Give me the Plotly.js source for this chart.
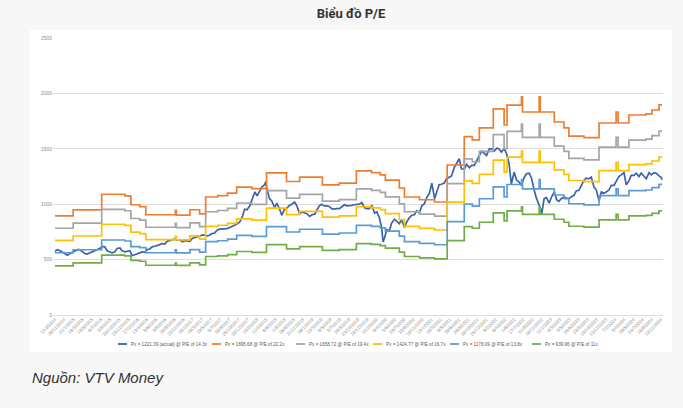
<!DOCTYPE html>
<html lang="vi">
<head>
<meta charset="utf-8">
<title>Biểu đồ P/E</title>
<script src="https://cdn.plot.ly/plotly-3.0.1.min.js"></script>
<style>
  html, body { margin: 0; padding: 0; }
  body { width: 683px; height: 408px; background: #f7f7f7; position: relative; overflow: hidden; }
  #title {
    position: absolute; left: 30px; top: 6px; width: 642px;
    text-align: center; font: bold 13px Roboto, "Liberation Sans", sans-serif; color: #333;
  }
  #panel { position: absolute; left: 30px; top: 30px; width: 642px; height: 322px; background: #fff; }
  #chart { width: 642px; height: 322px; }
  #source {
    position: absolute; left: 32px; top: 369px; line-height: 17px;
    font: italic 15px "Liberation Sans", Arial, sans-serif; color: #333;
  }
</style>
</head>
<body>
<div id="title">Biểu đồ P/E</div>
<div id="panel"><div id="chart"></div></div>
<div id="source">Nguồn: VTV Money</div>

<script>
// -- Actual index level (semi-monthly readings) -------------------------------
const actualDates = [
  '2014-10-01','2014-10-15','2014-11-01','2014-11-15','2014-12-01','2014-12-15',
  '2015-01-01','2015-01-15','2015-02-01','2015-02-15','2015-03-01','2015-03-15','2015-04-01','2015-04-15','2015-05-01','2015-05-15','2015-06-01','2015-06-15',
  '2015-07-01','2015-07-15','2015-08-01','2015-08-15','2015-09-01','2015-09-15','2015-10-01','2015-10-15','2015-11-01','2015-11-15','2015-12-01','2015-12-15',
  '2016-01-01','2016-01-15','2016-02-01','2016-02-15','2016-03-01','2016-03-15','2016-04-01','2016-04-15','2016-05-01','2016-05-15','2016-06-01','2016-06-15',
  '2016-07-01','2016-07-15','2016-08-01','2016-08-15','2016-09-01','2016-09-15','2016-10-01','2016-10-15','2016-11-01','2016-11-15','2016-12-01','2016-12-15',
  '2017-01-01','2017-01-15','2017-02-01','2017-02-15','2017-03-01','2017-03-15','2017-04-01','2017-04-15','2017-05-01','2017-05-15','2017-06-01','2017-06-15',
  '2017-07-01','2017-07-15','2017-08-01','2017-08-15','2017-09-01','2017-09-15','2017-10-01','2017-10-15','2017-11-01','2017-11-15','2017-12-01','2017-12-15',
  '2018-01-01','2018-01-15','2018-02-01','2018-02-15','2018-03-01','2018-03-15','2018-04-01','2018-04-09','2018-04-15','2018-05-01','2018-05-15','2018-06-01','2018-06-15',
  '2018-07-01','2018-07-15','2018-08-01','2018-08-15','2018-09-01','2018-09-15','2018-10-01','2018-10-15','2018-11-01','2018-11-15','2018-12-01','2018-12-15',
  '2019-01-01','2019-01-15','2019-02-01','2019-02-15','2019-03-01','2019-03-15','2019-04-01','2019-04-15','2019-05-01','2019-05-15','2019-06-01','2019-06-15',
  '2019-07-01','2019-07-15','2019-08-01','2019-08-15','2019-09-01','2019-09-15','2019-10-01','2019-10-15','2019-11-01','2019-11-15','2019-12-01','2019-12-15',
  '2020-01-01','2020-01-15','2020-02-01','2020-02-15','2020-03-01','2020-03-15','2020-03-24','2020-04-01','2020-04-15','2020-05-01','2020-05-15','2020-06-01','2020-06-15',
  '2020-07-01','2020-07-15','2020-08-01','2020-08-15','2020-09-01','2020-09-15','2020-10-01','2020-10-15','2020-11-01','2020-11-15','2020-12-01','2020-12-15',
  '2021-01-01','2021-01-15','2021-02-01','2021-02-15','2021-03-01','2021-03-15','2021-04-01','2021-04-15','2021-05-01','2021-05-15','2021-06-01','2021-06-15',
  '2021-07-01','2021-07-15','2021-08-01','2021-08-15','2021-09-01','2021-09-15','2021-10-01','2021-10-15','2021-11-01','2021-11-15','2021-12-01','2021-12-15',
  '2022-01-01','2022-01-15','2022-02-01','2022-02-15','2022-03-01','2022-03-15','2022-04-01','2022-04-15','2022-05-01','2022-05-15','2022-06-01','2022-06-15',
  '2022-07-01','2022-07-15','2022-08-01','2022-08-15','2022-09-01','2022-09-15','2022-10-01','2022-10-15','2022-11-01','2022-11-15','2022-11-16','2022-12-01','2022-12-15',
  '2023-01-01','2023-01-15','2023-02-01','2023-02-15','2023-03-01','2023-03-15','2023-04-01','2023-04-15','2023-05-01','2023-05-15','2023-06-01','2023-06-15',
  '2023-07-01','2023-07-15','2023-08-01','2023-08-15','2023-09-01','2023-09-15','2023-10-01','2023-10-15','2023-11-01','2023-11-15','2023-12-01','2023-12-15',
  '2024-01-01','2024-01-15','2024-02-01','2024-02-15','2024-03-01','2024-03-15','2024-04-01','2024-04-15','2024-05-01','2024-05-15','2024-06-01','2024-06-15',
  '2024-07-01','2024-07-15','2024-08-01','2024-08-15','2024-09-01','2024-09-15','2024-10-01','2024-10-15','2024-11-01','2024-11-15','2024-11-19'
];
const actualValues = [
  575, 590, 580, 565, 555, 540,
  555, 565, 575, 590, 590, 570, 555, 550, 560, 570, 580, 590,
  600, 620, 615, 580, 565, 560, 570, 600, 605, 580, 570, 575,
  580, 535, 545, 555, 560, 570, 565, 590, 595, 615, 620, 625,
  635, 645, 640, 665, 675, 680, 685, 675, 680, 660, 670, 665,
  665, 690, 700, 710, 715, 720, 720, 715, 720, 735, 740, 765,
  775, 775, 780, 780, 790, 800, 805, 820, 840, 880, 955, 950,
  985, 1050, 1110, 1075, 1120, 1155, 1175, 1204, 1140, 1050, 1030, 970, 1010,
  960, 900, 955, 965, 990, 1000, 1020, 985, 915, 930, 925, 915,
  890, 905, 910, 950, 985, 1000, 985, 985, 980, 960, 955, 960,
  960, 975, 995, 985, 985, 990, 995, 1000, 1000, 1015, 970, 960,
  960, 990, 920, 930, 880, 790, 660, 690, 770, 760, 830, 865, 850,
  825, 860, 790, 840, 880, 900, 905, 940, 925, 985, 1005, 1060,
  1100, 1190, 1050, 1115, 1175, 1180, 1190, 1230, 1240, 1255, 1330, 1370,
  1410, 1320, 1315, 1360, 1330, 1350, 1350, 1390, 1440, 1480, 1460, 1440,
  1500, 1500, 1480, 1505, 1500, 1470, 1500, 1460, 1370, 1180, 1290, 1220,
  1200, 1170, 1240, 1275, 1280, 1235, 1130, 1055, 990, 935, 911, 1050, 1060,
  1010, 1065, 1110, 1040, 1025, 1050, 1065, 1055, 1050, 1065, 1080, 1120,
  1125, 1165, 1215, 1235, 1230, 1245, 1155, 1130, 1030, 1110, 1100, 1110,
  1130, 1170, 1170, 1210, 1250, 1265, 1285, 1175, 1210, 1260, 1260, 1280,
  1250, 1280, 1250, 1230, 1285, 1265, 1285, 1280, 1255, 1240, 1221.39
];

// -- P/E band levels (step changes at each earnings update) --------------------
const bandDates = [
  '2014-10-01','2015-01-20','2015-07-13','2015-12-01','2016-01-07','2016-03-01','2016-04-07','2016-10-04','2016-10-10','2017-01-01',
  '2017-03-01','2017-04-07','2017-06-19','2017-08-19','2017-10-13','2018-01-13','2018-04-13','2018-08-13','2018-11-01','2019-03-20',
  '2019-07-01','2019-10-13','2020-01-13','2020-03-07','2020-04-07','2020-07-01','2020-08-01','2020-11-01','2021-02-01','2021-04-19',
  '2021-08-01','2021-09-19','2021-11-01','2022-01-25','2022-04-01','2022-04-19','2022-07-16','2022-07-22','2022-11-01','2022-11-07',
  '2023-02-01','2023-04-01','2023-05-01','2023-08-01','2023-11-01','2024-02-13','2024-02-25','2024-05-01','2024-08-13','2024-09-19',
  '2024-11-01','2024-11-19'
];
const bandOrange = [
  895, 948, 1090, 1075, 995, 978, 905, 945, 902, 950,
  912, 1065, 1078, 1100, 1155, 1140, 1282, 1205, 1245, 1175,
  1190, 1300, 1285, 1265, 1218, 1146, 1065, 1040, 1020, 1354,
  1610, 1580, 1688, 1860, 1715, 1895, 1968, 1832, 1968, 1832,
  1742, 1688, 1615, 1600, 1733, 1832, 1733, 1805, 1815, 1850,
  1895.68, 1895.68
];
const bandGray = [
  783, 830, 954, 941, 871, 856, 792, 827, 789, 831,
  798, 932, 943, 963, 1011, 998, 1122, 1054, 1089, 1028,
  1041, 1138, 1124, 1107, 1066, 1003, 932, 910, 893, 1185,
  1409, 1383, 1477, 1628, 1501, 1658, 1722, 1603, 1722, 1603,
  1524, 1477, 1413, 1400, 1516, 1603, 1516, 1579, 1588, 1619,
  1658.72, 1658.72
];
const bandYellow = [
  673, 713, 819, 808, 748, 735, 680, 710, 678, 714,
  685, 800, 810, 827, 868, 857, 964, 906, 936, 883,
  894, 977, 966, 951, 915, 861, 800, 782, 767, 1018,
  1210, 1188, 1269, 1398, 1289, 1424, 1479, 1377, 1479, 1377,
  1309, 1269, 1214, 1203, 1303, 1377, 1303, 1357, 1364, 1390,
  1424.77, 1424.77
];
const bandLightBlue = [
  562, 589, 677, 668, 618, 608, 562, 587, 561, 590,
  567, 662, 670, 684, 718, 709, 797, 749, 774, 730,
  740, 808, 799, 786, 757, 712, 662, 646, 634, 842,
  1001, 982, 1049, 1156, 1066, 1178, 1223, 1139, 1223, 1139,
  1083, 1049, 1004, 994, 1077, 1139, 1077, 1122, 1128, 1150,
  1178.09, 1178.09
];
const bandGreen = [
  444, 470, 540, 533, 493, 485, 449, 469, 447, 471,
  452, 528, 534, 545, 573, 565, 636, 597, 617, 583,
  590, 645, 637, 627, 604, 568, 528, 516, 506, 671,
  798, 783, 837, 922, 850, 940, 976, 908, 976, 908,
  864, 837, 801, 793, 859, 908, 859, 895, 900, 917,
  939.96, 939.96
];

// -- Legend names and colours ---------------------------------------------------
const seriesNames = [
  'Px = 1221.39 (actual) @ P/E of 14.3x',
  'Px = 1895.68 @ P/E of 22.2x',
  'Px = 1658.72 @ P/E of 19.4x',
  'Px = 1424.77 @ P/E of 16.7x',
  'Px = 1178.09 @ P/E of 13.8x',
  'Px = 939.96 @ P/E of 11x'
];
const seriesColors = ['#3d62ac', '#ed7d31', '#a5a5a5', '#ffc000', '#5b9bd5', '#70ad47'];

// -- X tick labels (every ~40 sessions) ----------------------------------------
const tickDates = [
  '2014-10-01','2014-11-26','2015-01-21','2015-03-18','2015-05-13','2015-07-08','2015-09-02','2015-10-28','2015-12-23',
  '2016-02-17','2016-04-13','2016-06-08','2016-08-03','2016-09-28','2016-11-23','2017-01-18','2017-03-15','2017-05-10',
  '2017-07-05','2017-08-30','2017-10-25','2017-12-20','2018-02-14','2018-04-11','2018-06-06','2018-08-01','2018-09-26',
  '2018-11-21','2019-01-16','2019-03-13','2019-05-08','2019-07-03','2019-08-28','2019-10-23','2019-12-18','2020-02-12',
  '2020-04-08','2020-06-03','2020-07-29','2020-09-23','2020-11-18','2021-01-13','2021-03-10','2021-05-05','2021-06-30',
  '2021-08-25','2021-10-20','2021-12-15','2022-02-09','2022-04-06','2022-06-01','2022-07-27','2022-09-21','2022-11-16',
  '2023-01-11','2023-03-08','2023-05-03','2023-06-28','2023-08-23','2023-10-18','2023-12-13','2024-02-07','2024-04-03',
  '2024-05-29','2024-07-24','2024-09-18','2024-11-13'
];
const tickLabels = tickDates.map(d => {
  const [y, m, day] = d.split('-');
  return (+day) + '/' + (+m) + '/' + y;
});

// -- Traces --------------------------------------------------------------------
const bands = [bandOrange, bandGray, bandYellow, bandLightBlue, bandGreen];

const traces = [{
  x: actualDates, y: actualValues,
  type: 'scatter', mode: 'lines',
  name: seriesNames[0],
  line: { color: seriesColors[0], width: 1.7 },
  hoverinfo: 'skip'
}];
bands.forEach((vals, i) => {
  traces.push({
    x: bandDates, y: vals,
    type: 'scatter', mode: 'lines',
    name: seriesNames[i + 1],
    line: { color: seriesColors[i + 1], width: 1.7, shape: 'hv' },
    hoverinfo: 'skip'
  });
});

// -- Legend drawn small, like the source image ---------------------------------
const plotLeft = 23, plotWidth = 610, plotHeight = 277;
const legendPx = [88, 182, 266, 343, 420, 502];   // sample start, px from panel left
const legendY = -29 / plotHeight;
const shapes = [];
const annotations = [];
legendPx.forEach((px, i) => {
  const x0 = (px - plotLeft) / plotWidth;
  const x1 = (px + 9 - plotLeft) / plotWidth;
  shapes.push({
    type: 'line', xref: 'paper', yref: 'paper',
    x0: x0, x1: x1, y0: legendY, y1: legendY,
    line: { color: seriesColors[i], width: 1.8 }
  });
  annotations.push({
    xref: 'paper', yref: 'paper',
    x: (px + 11 - plotLeft) / plotWidth, y: legendY,
    xanchor: 'left', yanchor: 'middle',
    text: seriesNames[i], showarrow: false,
    font: { size: 4.6, color: '#595959', family: 'Liberation Sans, Arial, sans-serif' }
  });
});

const layout = {
  width: 642, height: 322,
  paper_bgcolor: '#ffffff',
  plot_bgcolor: '#ffffff',
  margin: { l: 23, r: 9, t: 8, b: 37 },
  font: { family: 'Liberation Sans, Arial, sans-serif', color: '#8c8c8c' },
  showlegend: false,
  xaxis: {
    type: 'date',
    range: ['2014-09-19', '2024-11-25'],
    tickmode: 'array',
    tickvals: tickDates,
    ticktext: tickLabels,
    tickangle: -45,
    tickfont: { size: 4.6, color: '#8c8c8c' },
    showgrid: false,
    zeroline: false,
    showline: false,
    ticks: ''
  },
  yaxis: {
    range: [0, 2500],
    dtick: 500,
    tickfont: { size: 5, color: '#8c8c8c' },
    gridcolor: '#dedede',
    gridwidth: 1,
    zeroline: true,
    zerolinecolor: '#dedede',
    zerolinewidth: 1,
    showline: false,
    ticks: ''
  },
  shapes: shapes,
  annotations: annotations
};

Plotly.newPlot('chart', traces, layout, { displayModeBar: false, staticPlot: true });
</script>
</body>
</html>
